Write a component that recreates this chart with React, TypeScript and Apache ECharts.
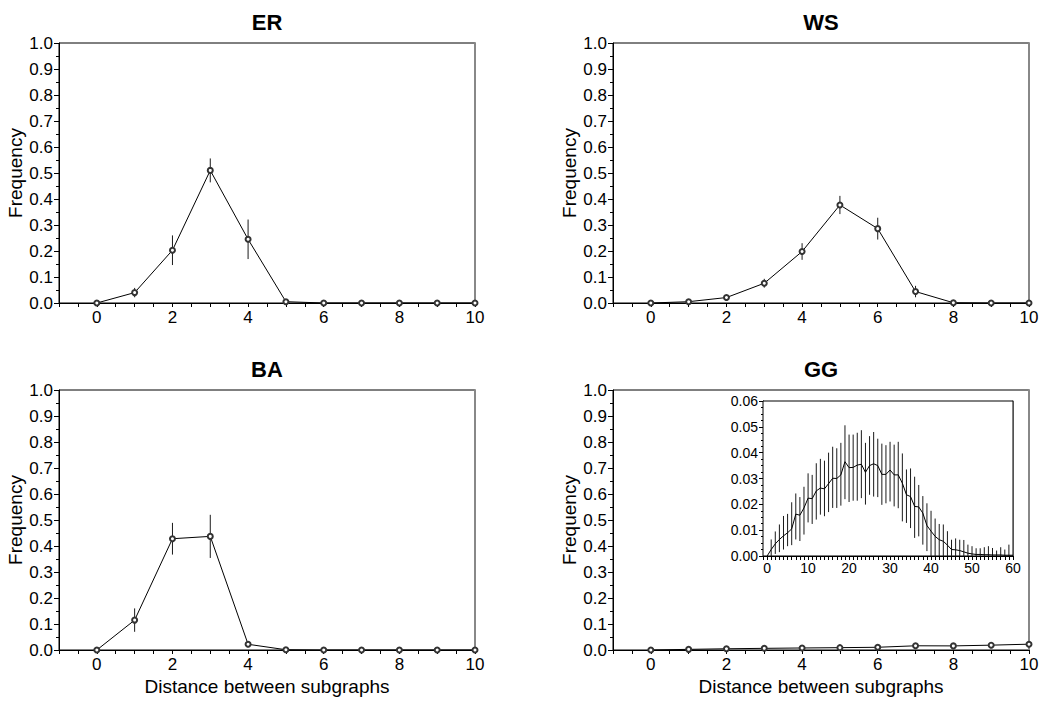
import React, { useEffect, useRef } from "react";
import * as echarts from "echarts";

// ---------- data ----------
const DISTANCES = [0, 1, 2, 3, 4, 5, 6, 7, 8, 9, 10];
const Y_TICKS_MAIN = [0, 0.1, 0.2, 0.3, 0.4, 0.5, 0.6, 0.7, 0.8, 0.9, 1.0];

const ER_MEAN = [0, 0.04, 0.203, 0.51, 0.245, 0.005, 0, 0, 0, 0, 0];
const ER_ERR = [0, 0.018, 0.057, 0.046, 0.076, 0.003, 0, 0, 0, 0, 0];

const WS_MEAN = [0, 0.005, 0.021, 0.076, 0.198, 0.377, 0.286, 0.044, 0.001, 0, 0];
const WS_ERR = [0, 0.003, 0.006, 0.017, 0.032, 0.035, 0.042, 0.022, 0.002, 0, 0];

const BA_MEAN = [0, 0.115, 0.428, 0.437, 0.022, 0.001, 0, 0, 0, 0, 0];
const BA_ERR = [0, 0.045, 0.061, 0.083, 0.006, 0, 0, 0, 0, 0, 0];

// GG (inset, distance 0..60)
const GG_DIST = Array.from({ length: 61 }, (_, i) => i);
const GG_MEAN = [
  0, 0.0025, 0.0047, 0.0064, 0.0078, 0.009, 0.0105, 0.0162, 0.0158, 0.0186,
  0.0224, 0.0222, 0.0252, 0.0263, 0.026, 0.028, 0.0301, 0.03, 0.0314, 0.0365,
  0.0342, 0.0343, 0.0352, 0.0355, 0.0324, 0.035, 0.0357, 0.035, 0.0316, 0.0316,
  0.0333, 0.0314, 0.0314, 0.0282, 0.0237, 0.023, 0.0192, 0.019, 0.0166, 0.0118,
  0.0096, 0.0076, 0.0063, 0.0057, 0.0042, 0.0025, 0.0024, 0.0021, 0.0016, 0.0011,
  0.0008, 0.0006, 0.0006, 0.0005, 0.0005, 0.0004, 0.0004, 0.0004, 0.0003, 0.0003, 0.0003,
];
const GG_HI = [
  0, 0.0064, 0.0095, 0.0122, 0.0155, 0.0163, 0.0208, 0.0242, 0.0228, 0.0268,
  0.032, 0.0314, 0.0359, 0.0376, 0.0369, 0.04, 0.0423, 0.0417, 0.0438, 0.0506,
  0.047, 0.047, 0.0477, 0.0487, 0.0438, 0.0464, 0.048, 0.0454, 0.0435, 0.0429,
  0.0442, 0.0431, 0.0442, 0.0397, 0.0335, 0.0339, 0.0307, 0.0275, 0.0232, 0.0204,
  0.0175, 0.0145, 0.0124, 0.0122, 0.0096, 0.0063, 0.0068, 0.0063, 0.0062, 0.0044,
  0.0038, 0.003, 0.003, 0.0034, 0.0038, 0.0031, 0.0021, 0.0034, 0.0025, 0.0044, 0,
];
const GG_LO = [
  0, 0, 0.0008, 0.0015, 0.0025, 0.0038, 0.0042, 0.0064, 0.0058, 0.0083,
  0.013, 0.0124, 0.0141, 0.016, 0.0154, 0.017, 0.0186, 0.0186, 0.0195, 0.022,
  0.0209, 0.0214, 0.0214, 0.0224, 0.0199, 0.0237, 0.023, 0.0228, 0.0198, 0.0204,
  0.0211, 0.0192, 0.0185, 0.0134, 0.0128, 0.0108, 0.007, 0.0076, 0.0044, 0.0019,
  0, 0, 0, 0, 0, 0, 0, 0, 0, 0,
  0, 0, 0, 0, 0, 0, 0, 0, 0, 0, 0,
];
const GG_MAIN_MEAN = GG_MEAN.slice(0, 11);

const FONT = "'Liberation Sans', Arial, Helvetica, sans-serif";

export default function App() {
  const ref = useRef<HTMLDivElement>(null);

  useEffect(() => {
    if (!ref.current) return;
    const chart = echarts.init(ref.current, null, { renderer: "svg" });

    const panels = [
      { title: "ER", mean: ER_MEAN, err: ER_ERR, left: 59, top: 43, xName: "" },
      { title: "WS", mean: WS_MEAN, err: WS_ERR, left: 613, top: 43, xName: "" },
      { title: "BA", mean: BA_MEAN, err: BA_ERR, left: 59, top: 390, xName: "Distance between subgraphs" },
      { title: "GG", mean: GG_MAIN_MEAN, err: null as number[] | null, left: 613, top: 390, xName: "Distance between subgraphs" },
    ];
    const W = 416;
    const H = 260;

    const grids: any[] = [];
    const xAxes: any[] = [];
    const yAxes: any[] = [];
    const series: any[] = [];
    const graphics: any[] = [];

    const errRender = (params: any, api: any) => {
      const x = api.value(0);
      const p1 = api.coord([x, api.value(1)]);
      const p2 = api.coord([x, api.value(2)]);
      return {
        type: "line",
        shape: { x1: p1[0], y1: p1[1], x2: p2[0], y2: p2[1] },
        style: { stroke: "#1a1a1a", lineWidth: 1 },
      };
    };

    panels.forEach((p, i) => {
      grids.push({
        left: p.left,
        top: p.top,
        width: W,
        height: H,
        show: true,
        borderColor: "#000",
        borderWidth: 1,
        backgroundColor: "#fff",
      });
      xAxes.push({
        type: "value",
        gridIndex: i,
        min: -1,
        max: 10,
        interval: 1,
        position: "bottom",
        name: p.xName,
        nameLocation: "middle",
        nameGap: 27,
        nameTextStyle: { fontSize: 19, color: "#000", fontFamily: FONT },
        axisLine: { show: true, onZero: false, lineStyle: { color: "#000", width: 1 } },
        axisTick: { show: true, inside: false, length: 4, lineStyle: { color: "#000" } },
        minorTick: { show: true, splitNumber: 2, length: 4, lineStyle: { color: "#000" } },
        splitLine: { show: false },
        axisLabel: {
          show: true,
          margin: 6,
          fontSize: 17,
          color: "#000",
          fontFamily: FONT,
          hideOverlap: false,
          showMinLabel: true,
          showMaxLabel: true,
          formatter: (v: number) => {
            const r = Math.round(v);
            return r >= 0 && r % 2 === 0 ? String(r) : "";
          },
        },
      });
      yAxes.push({
        type: "value",
        gridIndex: i,
        min: Y_TICKS_MAIN[0],
        max: Y_TICKS_MAIN[Y_TICKS_MAIN.length - 1],
        interval: 0.1,
        position: "left",
        name: "Frequency",
        nameLocation: "middle",
        nameGap: 31,
        nameTextStyle: { fontSize: 19, color: "#000", fontFamily: FONT },
        axisLine: { show: true, onZero: false, lineStyle: { color: "#000", width: 1 } },
        axisTick: { show: true, length: 5, lineStyle: { color: "#000" } },
        minorTick: { show: true, splitNumber: 2, length: 3, lineStyle: { color: "#000" } },
        splitLine: { show: false },
        axisLabel: {
          margin: 6,
          fontSize: 17,
          color: "#000",
          fontFamily: FONT,
          formatter: (v: number) => v.toFixed(1),
        },
      });
      yAxes.push({
        type: "value",
        gridIndex: i,
        min: 0,
        max: 1,
        position: "right",
        axisLine: { show: true, onZero: false, lineStyle: { color: "#888", width: 2 } },
        axisTick: { show: false },
        axisLabel: { show: false },
        splitLine: { show: false },
      });
      const yIdx = i * 2;
      series.push({
        type: "line",
        xAxisIndex: i,
        yAxisIndex: yIdx,
        data: DISTANCES.map((d, k) => [d, p.mean[k]]),
        symbol: "emptyCircle",
        symbolSize: 5,
        showAllSymbol: true,
        lineStyle: { color: "#000", width: 1 },
        itemStyle: { color: "#333", borderColor: "#333", borderWidth: 1 },
        z: 3,
      });
      if (p.err) {
        const err = p.err;
        series.push({
          type: "custom",
          xAxisIndex: i,
          yAxisIndex: yIdx,
          renderItem: errRender,
          data: DISTANCES.map((d, k) => [d, Math.max(0, p.mean[k] - err[k]), p.mean[k] + err[k]]),
          encode: { x: 0, y: [1, 2] },
          z: 2,
        });
      }
      graphics.push({
        type: "text",
        x: p.left + W / 2,
        y: p.top - 21,
        style: {
          text: p.title,
          fontSize: 22,
          fontWeight: "bold",
          fontFamily: FONT,
          fill: "#000",
          align: "center",
          verticalAlign: "middle",
        },
      });
    });

    // inset
    const gi = 4;
    grids.push({
      left: 763,
      top: 401,
      width: 250,
      height: 155,
      show: true,
      borderColor: "#000",
      borderWidth: 1,
      backgroundColor: "#fff",
      z: 5,
    });
    xAxes.push({
      type: "value",
      gridIndex: gi,
      min: -1,
      max: 60,
      interval: 1,
      position: "bottom",
      axisLine: { show: true, onZero: false, lineStyle: { color: "#000", width: 1 } },
      axisTick: { show: false },
      minorTick: { show: false },
      splitLine: { show: false },
      axisLabel: {
        margin: 5,
        fontSize: 14,
        color: "#000",
        fontFamily: FONT,
        hideOverlap: false,
        formatter: (v: number) => {
          const r = Math.round(v);
          return r >= 0 && r % 10 === 0 ? String(r) : "";
        },
      },
    });
    xAxes.push({
      type: "value",
      gridIndex: gi,
      min: -1,
      max: 60,
      interval: 1,
      position: "bottom",
      axisLine: { show: false },
      axisTick: {
        show: true,
        length: 4,
        interval: (idx: number, v: any) => {
          const n = Math.round(Number(v));
          return n >= 0 && n % 5 === 0;
        },
        lineStyle: { color: "#000" },
      },
      axisLabel: { show: false },
      splitLine: { show: false },
    });
    yAxes.push({
      type: "value",
      gridIndex: gi,
      min: 0,
      max: 0.06,
      interval: 0.01,
      position: "left",
      axisLine: { show: true, onZero: false, lineStyle: { color: "#000", width: 1 } },
      axisTick: { show: true, length: 4, lineStyle: { color: "#000" } },
      minorTick: { show: true, splitNumber: 4, length: 2, lineStyle: { color: "#000" } },
      splitLine: { show: false },
      axisLabel: {
        margin: 5,
        fontSize: 14,
        color: "#000",
        fontFamily: FONT,
        formatter: (v: number) => v.toFixed(2),
      },
    });
    yAxes.push({
      type: "value",
      gridIndex: gi,
      min: 0,
      max: 1,
      position: "right",
      axisLine: { show: true, onZero: false, lineStyle: { color: "#888", width: 1.5 } },
      axisTick: { show: false },
      axisLabel: { show: false },
      splitLine: { show: false },
    });
    series.push({
      type: "custom",
      xAxisIndex: 4,
      yAxisIndex: 8,
      renderItem: errRender,
      data: GG_DIST.map((d, k) => [d, GG_LO[k], GG_HI[k]]),
      encode: { x: 0, y: [1, 2] },
      clip: true,
      z: 6,
    });
    series.push({
      type: "line",
      xAxisIndex: 4,
      yAxisIndex: 8,
      data: GG_DIST.map((d, k) => [d, GG_MEAN[k]]),
      showSymbol: false,
      symbol: "none",
      lineStyle: { color: "#000", width: 1 },
      clip: true,
      z: 7,
    });

    chart.setOption({
      animation: false,
      backgroundColor: "#fff",
      textStyle: { fontFamily: FONT },
      grid: grids.map((g) => ({ ...g, containLabel: false, outerBoundsMode: "none" })),
      xAxis: xAxes,
      yAxis: yAxes,
      series,
      graphic: graphics,
    });

    return () => chart.dispose();
  }, []);

  return (
    <div
      ref={ref}
      style={{ position: "fixed", left: 0, top: 0, width: 1040, height: 704, background: "#fff" }}
    />
  );
}
